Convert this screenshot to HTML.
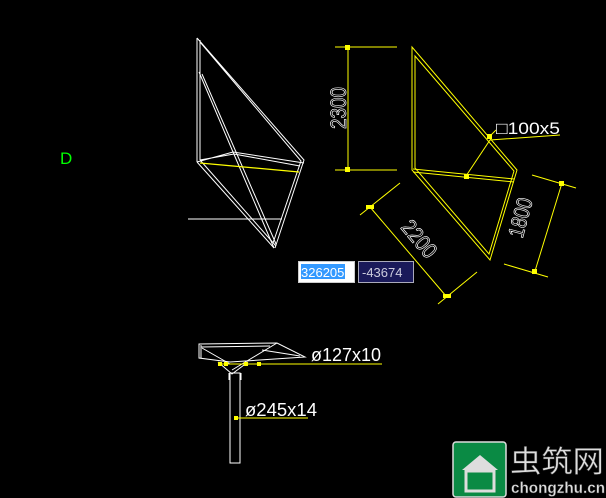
<!DOCTYPE html>
<html><head><meta charset="utf-8"><style>
html,body{margin:0;padding:0;background:#000;width:606px;height:498px;overflow:hidden}
svg{display:block}
text{font-family:"Liberation Sans","Noto Sans CJK SC",sans-serif}
</style></head><body>
<svg width="606" height="498" viewBox="0 0 606 498" xmlns="http://www.w3.org/2000/svg">
<rect width="606" height="498" fill="#000"/>
<text x="60" y="164" fill="#0f0" font-size="17">D</text>
<g stroke="#fff" stroke-width="1" fill="none">
<path d="M197,38 L197,162 M200,40 L200,160"/>
<path d="M197,38 L304,160 L275,248 M200,42 L301,161 L273,243"/>
<path d="M199,72 L233,152 L274,248 M202,74 L236,152 L276,244"/>
<path d="M197,162 L233,152 L304,163 M200,160 L234,154 L300,166"/>
<path d="M197,162 L274,248 M200,160 L276,246"/>
<path d="M188,219 L282,219"/>
</g>
<path d="M200,163 L299,172" stroke="#ff0" stroke-width="1.2"/>
<g stroke="#ff0" stroke-width="1" fill="none">
<path d="M412,47 L412,170 L490,260 L517,170 Z"/>
<path d="M415,56 L415,168 L489,254 L514,171 Z"/>
<path d="M413,169 L514,179 M413,172 L514,182"/>
<path d="M335,47 L397,47 M335,170 L397,170 M348,47 L348,170"/>
<path d="M370,207 L446,296 M360,215 L400,183 M438,304 L477,272"/>
<path d="M562,183 L535,271 M532,175 L576,188 M504,264 L548,277"/>
<path d="M466,176 L490,140 L560,135"/>
<path d="M487,139 L496,130"/>
</g>
<g fill="#ff0">
<rect x="345" y="45" width="5" height="5"/><rect x="345" y="167" width="5" height="5"/>
<rect x="366" y="205" width="8" height="4"/><rect x="443" y="294" width="8" height="4"/>
<rect x="559" y="181" width="5" height="5"/><rect x="532" y="269" width="5" height="5"/>
<rect x="487" y="134" width="5" height="5"/><rect x="464" y="174" width="5" height="5"/>
</g>
<g stroke="#fff" stroke-width="0.7" font-size="22" fill="#000">
<text transform="translate(340,108) rotate(-90)" text-anchor="middle" dominant-baseline="middle" textLength="42" lengthAdjust="spacingAndGlyphs">2300</text>
<text transform="translate(418,240) rotate(50)" text-anchor="middle" dominant-baseline="middle" textLength="42" lengthAdjust="spacingAndGlyphs">2200</text>
<text transform="translate(522,218) rotate(-75)" text-anchor="middle" dominant-baseline="middle" textLength="40" lengthAdjust="spacingAndGlyphs">1800</text>
</g>
<text x="496" y="134" fill="#fff" font-size="17" textLength="64" lengthAdjust="spacingAndGlyphs">□100x5</text>
<rect x="298.5" y="261.5" width="56" height="21" fill="#fff" stroke="#ccc"/>
<rect x="301" y="264" width="44" height="15" fill="#39f"/>
<text x="301" y="277" fill="#fff" font-size="13">326205</text>
<rect x="358.5" y="261.5" width="55" height="21" fill="#1a1a5a" stroke="#aab"/>
<text x="362" y="277" fill="#ccd" font-size="13">-43674</text>
<g stroke="#fff" stroke-width="1" fill="none">
<path d="M199,344 L277,343 L305,357 L230,362 L199,358 Z"/>
<path d="M201,347 L270,346 M201,345 L201,358 M202,348 L230,364 M277,343 L232,370 M262,350 L300,356"/>
<path d="M218,362 L232,374 L248,362"/>
<rect x="230" y="373" width="10" height="90"/>
<path d="M229,373 L229,380 M241,373 L241,380"/>
</g>
<path d="M218,364 L382,364 M236,418 L308,418" stroke="#ff0" stroke-width="1"/>
<g fill="#ff0"><rect x="218" y="362" width="4" height="4"/><rect x="224" y="362" width="4" height="4"/><rect x="244" y="362" width="4" height="4"/><rect x="257" y="362" width="4" height="4"/><rect x="234" y="416" width="4" height="4"/></g>
<text x="311" y="361" fill="#fff" font-size="18" textLength="70" lengthAdjust="spacingAndGlyphs">ø127x10</text>
<text x="245" y="416" fill="#fff" font-size="18" textLength="72" lengthAdjust="spacingAndGlyphs">ø245x14</text>
<rect x="453" y="442" width="53" height="55" rx="3" fill="#0a8a44" stroke="#ddd" stroke-width="1.5"/>
<path d="M462,470 L480,455 L498,470 Z" fill="#ddd"/>
<rect x="466" y="471" width="28" height="20" fill="none" stroke="#ddd" stroke-width="3"/>
<text x="510" y="472" fill="#ddd" stroke="#333" stroke-width="0.5" font-size="30" font-family="'Noto Serif CJK SC',serif" textLength="94" lengthAdjust="spacingAndGlyphs">虫筑网</text>
<text x="511" y="493" fill="#ddd" stroke="#333" stroke-width="0.4" font-size="16" font-family="'Liberation Serif',serif" font-weight="bold" textLength="94" lengthAdjust="spacingAndGlyphs">chongzhu.cn</text>
</svg>
</body></html>
